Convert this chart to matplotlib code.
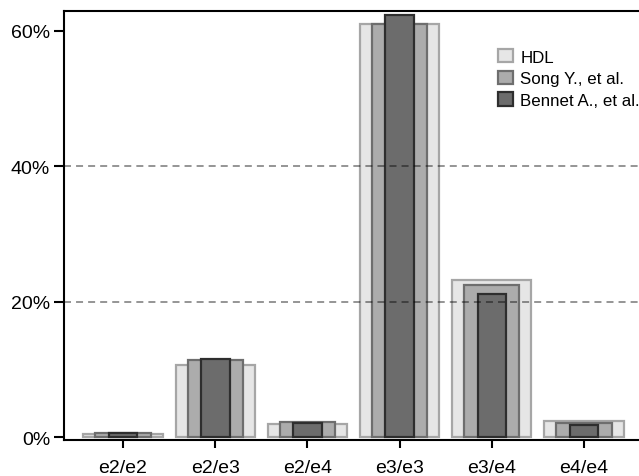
import numpy as np
import matplotlib
matplotlib.use("Agg")
import matplotlib.pyplot as plt
from matplotlib.ticker import PercentFormatter

# genotype frequencies
genotypes = ["e2/e2", "e2/e3", "e2/e4", "e3/e3", "e3/e4", "e4/e4"]
hdl = [0.005, 0.1075, 0.020, 0.610, 0.233, 0.025]
song = [0.0066, 0.114, 0.023, 0.610, 0.2255, 0.021]
bennet = [0.0066, 0.116, 0.021, 0.624, 0.212, 0.018]
yticks = [0.0, 0.2, 0.4, 0.6]

plt.rcParams['font.family'] = ['Liberation Sans', 'DejaVu Sans']
plt.rcParams['font.size'] = 14

fig = plt.figure(figsize=(6.39, 4.77), dpi=100)
ax = fig.add_axes([64 / 639, 1 - 441 / 477, 1 - 64 / 639 + 0.002, 429 / 477])

x = np.arange(len(genotypes))
ax.bar(x, hdl, width=0.86, color="#e6e6e6", edgecolor="#a6a6a6", linewidth=1.6,
       label="HDL", zorder=2)
ax.bar(x, song, width=0.60, color="#acacac", edgecolor="#6e6e6e", linewidth=1.6,
       label="Song Y., et al.", zorder=3)
ax.bar(x, bennet, width=0.31, color="#6c6c6c", edgecolor="#2e2e2e", linewidth=1.6,
       label="Bennet A., et al.", zorder=4)

# dashed reference lines (not at 0 or the top tick)
for y in yticks[1:-1]:
    ax.axhline(y, color="black", alpha=0.42, linewidth=1.4, dashes=(3.6, 2.6), zorder=5)

ax.set_xlim(-0.64, 5.61)
ax.set_ylim(-0.0037, 0.6295)
ax.set_xticks(x)
ax.set_xticklabels(genotypes)
ax.set_yticks(yticks)
ax.yaxis.set_major_formatter(PercentFormatter(1.0, decimals=0))

ax.spines["right"].set_visible(False)
for s in ["left", "top", "bottom"]:
    ax.spines[s].set_linewidth(1.5)
ax.tick_params(axis="y", length=7, width=1.5, pad=3)
ax.tick_params(axis="x", length=6, width=1.5, pad=8)

ax.legend(loc="upper left", bbox_to_anchor=(0.753, 0.911), frameon=False,
          handlelength=0.88, handleheight=0.82, handletextpad=0.45,
          labelspacing=0.36, borderpad=0, borderaxespad=0, fontsize=12.2)

fig.savefig("out.png", dpi=100)
